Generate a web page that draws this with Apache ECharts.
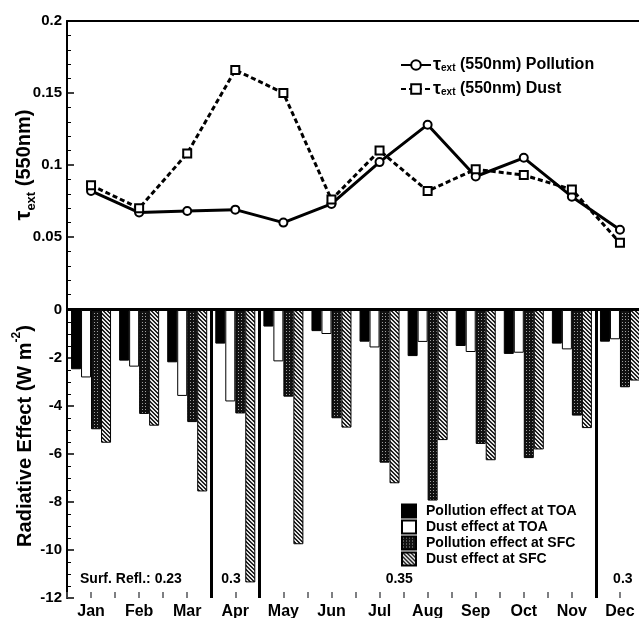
<!DOCTYPE html>
<html>
<head>
<meta charset="utf-8">
<script src="https://cdn.jsdelivr.net/npm/echarts@6/dist/echarts.min.js"></script>
<style>
  html, body { margin: 0; padding: 0; background: #fff; }
  #chart { width: 639px; height: 618px; }
</style>
</head>
<body>
<div id="chart"></div>
<script>
const months = ['Jan', 'Feb', 'Mar', 'Apr', 'May', 'Jun', 'Jul', 'Aug', 'Sep', 'Oct', 'Nov', 'Dec'];

// aerosol optical depth at 550 nm
const tauPollution = [0.082, 0.067, 0.068, 0.069, 0.060, 0.073, 0.102, 0.128, 0.092, 0.105, 0.078, 0.055];
const tauDust = [0.086, 0.070, 0.108, 0.166, 0.150, 0.076, 0.110, 0.082, 0.097, 0.093, 0.083, 0.046];

// radiative effect, W m-2
const pollToa = [-2.47, -2.11, -2.18, -1.40, -0.69, -0.88, -1.32, -1.92, -1.50, -1.83, -1.40, -1.32];
const dustToa = [-2.81, -2.36, -3.58, -3.81, -2.14, -1.00, -1.56, -1.33, -1.75, -1.78, -1.64, -1.22];
const pollSfc = [-4.97, -4.33, -4.67, -4.31, -3.61, -4.51, -6.36, -7.94, -5.58, -6.17, -4.40, -3.22];
const dustSfc = [-5.53, -4.82, -7.56, -11.35, -9.76, -4.90, -7.22, -5.42, -6.26, -5.81, -4.92, -2.94];

// surface reflectance regions (month boundaries) and their labels
const reflBreaks = [3, 4, 11];
const reflLabels = ['Surf. Refl.: 0.23', '0.3', '0.35', '0.3'];
const reflLabelX = [1.33, 3.41, 6.91, 11.56];

const FONT = 'Liberation Sans';

function makePattern(size, draw) {
  const c = document.createElement('canvas');
  c.width = size;
  c.height = size;
  draw(c.getContext('2d'));
  return { image: c, repeat: 'repeat' };
}
const darkPattern = makePattern(3, g => {
  g.fillStyle = '#111';
  g.fillRect(0, 0, 3, 3);
  g.fillStyle = '#a0a0a0';
  g.fillRect(1, 1, 1, 1);
});
const hatchPattern = makePattern(4, g => {
  g.fillStyle = '#e8e8e8';
  g.fillRect(0, 0, 4, 4);
  g.fillStyle = '#222';
  for (let i = 0; i < 4; i++) {
    g.fillRect(i, i, 1, 1);
    g.fillRect((i + 1) % 4, i, 1, 1);
  }
});

const axisLine = { show: true, lineStyle: { color: '#000', width: 2 } };
const numLabel = { color: '#000', fontFamily: FONT, fontWeight: 'bold', fontSize: 15, margin: 5 };

const chart = echarts.init(document.getElementById('chart'));

const barSeries = (name, data, color) => ({
  name,
  type: 'bar',
  xAxisIndex: 2,
  yAxisIndex: 1,
  data,
  barWidth: 10,
  barGap: '0%',
  itemStyle: { color, borderColor: '#000', borderWidth: 1 }
});

const option = {
  animation: false,
  backgroundColor: '#fff',
  textStyle: { fontFamily: FONT },
  grid: [
    { left: 67, right: -5, top: 21, height: 288, outerBoundsMode: 'none' },
    { left: 67, right: -5, top: 310, bottom: 20, outerBoundsMode: 'none' }
  ],
  legend: [
    {
      data: ['Pollution', 'Dust'],
      orient: 'vertical',
      left: 400,
      top: 56,
      padding: 0,
      itemWidth: 30,
      itemHeight: 12,
      itemGap: 5,
      formatter: n => '{t|τ}{s|ext}{n| (550nm) ' + n + '}',
      textStyle: {
        color: '#000',
        fontFamily: FONT,
        fontWeight: 'bold',
        padding: [0, 0, 0, -3],
        rich: {
          t: { fontSize: 18, fontWeight: 'bold', fontFamily: FONT, lineHeight: 20 },
          s: { fontSize: 10, fontWeight: 'bold', fontFamily: FONT, lineHeight: 20, verticalAlign: 'bottom', padding: [0, 0, 2, 0] },
          n: { fontSize: 16, fontWeight: 'bold', fontFamily: FONT, lineHeight: 20 }
        }
      }
    },
    {
      data: ['Pollution effect at TOA', 'Dust effect at TOA', 'Pollution effect at SFC', 'Dust effect at SFC'],
      orient: 'vertical',
      left: 401,
      top: 503,
      padding: 0,
      icon: 'rect',
      itemWidth: 14,
      itemHeight: 13,
      itemGap: 0,
      textStyle: { color: '#000', fontFamily: FONT, fontWeight: 'bold', fontSize: 14, lineHeight: 16, padding: [0, 0, 0, 5] }
    }
  ],
  xAxis: [
    {
      type: 'category', gridIndex: 0, position: 'bottom', data: months,
      axisLine, axisTick: { inside: true, length: 6, lineStyle: { width: 1.5 } },
      axisLabel: { show: false }
    },
    {
      type: 'value', gridIndex: 0, position: 'top', min: 0, max: 12,
      axisLine, axisTick: { show: false }, axisLabel: { show: false }, splitLine: { show: false }
    },
    {
      type: 'category', gridIndex: 1, position: 'bottom', data: months,
      axisLine, axisTick: { show: false },
      axisLabel: { color: '#000', fontFamily: FONT, fontWeight: 'bold', fontSize: 16, margin: 6 }
    },
    {
      type: 'category', gridIndex: 1, position: 'top', data: months,
      axisLine, axisTick: { inside: true, length: 6, lineStyle: { width: 1.5 } },
      axisLabel: { show: false }
    },
    {
      type: 'value', gridIndex: 1, position: 'bottom', min: 0, max: 12, interval: 0.5,
      axisLine: { show: false }, axisTick: { inside: true, length: 6, lineStyle: { width: 1.5 } },
      axisLabel: { show: false }, splitLine: { show: false }
    }
  ],
  yAxis: [
    {
      type: 'value', gridIndex: 0, min: 0, max: 0.2, interval: 0.05,
      axisLine, axisTick: { show: true, inside: true, length: 7, lineStyle: { width: 1.5 } },
      minorTick: { show: true, splitNumber: 5, length: 4, lineStyle: { color: '#000', width: 1 } },
      splitLine: { show: false },
      axisLabel: Object.assign({ showMinLabel: false }, numLabel),
      name: '{t|τ}{s|ext}{n| (550nm)}',
      nameLocation: 'middle',
      nameRotate: 90,
      nameGap: 29,
      nameMoveOverlap: false,
      nameTextStyle: {
        color: '#000',
        rich: {
          t: { fontSize: 22, fontFamily: FONT, fontWeight: 'bold', lineHeight: 28 },
          s: { fontSize: 13, fontFamily: FONT, fontWeight: 'bold', lineHeight: 28, verticalAlign: 'bottom' },
          n: { fontSize: 20, fontFamily: FONT, fontWeight: 'bold', lineHeight: 28 }
        }
      }
    },
    {
      type: 'value', gridIndex: 1, min: -12, max: 0, interval: 2,
      axisLine, axisTick: { show: true, inside: true, length: 7, lineStyle: { width: 1.5 } },
      minorTick: { show: true, splitNumber: 4, length: 4, lineStyle: { color: '#000', width: 1 } },
      splitLine: { show: false },
      axisLabel: numLabel,
      name: '{n|Radiative Effect (W m}{p|-2}{n|)}',
      nameLocation: 'middle',
      nameRotate: 90,
      nameGap: 28,
      nameMoveOverlap: false,
      nameTextStyle: {
        color: '#000',
        padding: [0, 0, 0, 36],
        rich: {
          n: { fontSize: 20, fontFamily: FONT, fontWeight: 'bold', lineHeight: 28 },
          p: { fontSize: 12, fontFamily: FONT, fontWeight: 'bold', lineHeight: 28, verticalAlign: 'top' }
        }
      }
    }
  ],
  series: [
    {
      name: 'Pollution',
      type: 'line',
      xAxisIndex: 0,
      yAxisIndex: 0,
      data: tauPollution,
      symbol: 'emptyCircle',
      symbolSize: 8,
      lineStyle: { color: '#000', width: 3 },
      itemStyle: { color: '#000', borderColor: '#000', borderWidth: 1 },
      z: 3
    },
    {
      name: 'Dust',
      type: 'line',
      xAxisIndex: 0,
      yAxisIndex: 0,
      data: tauDust,
      symbol: 'emptyRect',
      symbolSize: 8,
      lineStyle: { color: '#000', width: 3, type: [5, 3] },
      itemStyle: { color: '#000', borderColor: '#000', borderWidth: 1 },
      z: 3
    },
    barSeries('Pollution effect at TOA', pollToa, '#000'),
    barSeries('Dust effect at TOA', dustToa, '#fff'),
    barSeries('Pollution effect at SFC', pollSfc, darkPattern),
    barSeries('Dust effect at SFC', dustSfc, hatchPattern),
    {
      type: 'scatter',
      xAxisIndex: 4,
      yAxisIndex: 1,
      symbolSize: 0,
      silent: true,
      itemStyle: { opacity: 1 },
      data: reflLabelX.map(x => [x, -11.2]),
      label: {
        show: true,
        position: 'inside',
        formatter: p => reflLabels[p.dataIndex],
        color: '#000',
        opacity: 1,
        fontFamily: FONT,
        fontWeight: 'bold',
        fontSize: 14
      },
      markLine: {
        silent: true,
        symbol: ['none', 'none'],
        label: { show: false },
        lineStyle: { color: '#000', width: 3, type: 'solid', opacity: 1 },
        data: reflBreaks.map(b => ({ xAxis: b }))
      },
      z: 5
    }
  ]
};

chart.setOption(option);
</script>
</body>
</html>
